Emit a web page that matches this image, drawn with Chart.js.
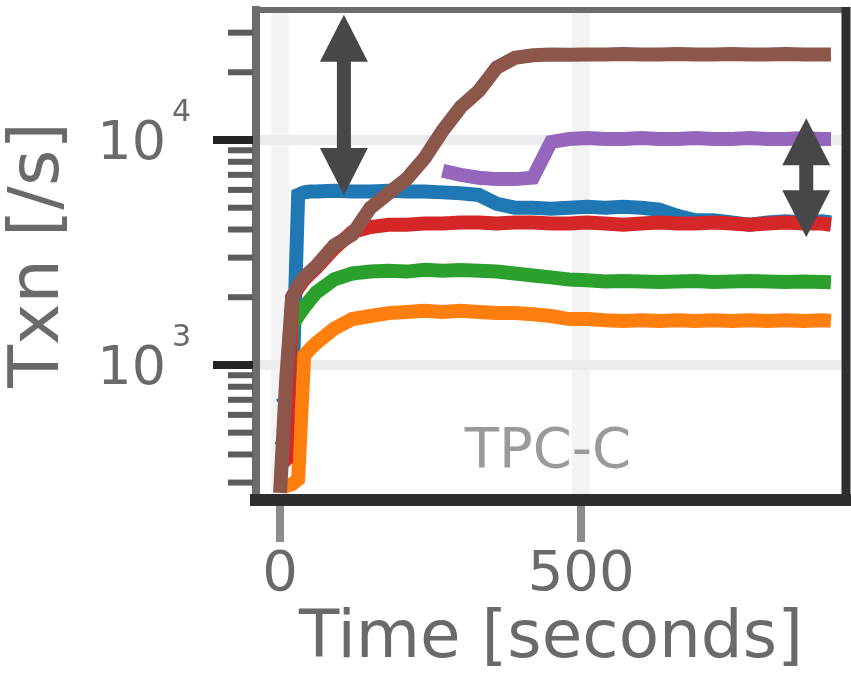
<!DOCTYPE html>
<html>
<head>
<meta charset="utf-8">
<script src="https://cdn.jsdelivr.net/npm/chart.js@4/dist/chart.umd.min.js"></script>
<style>
  html, body { margin: 0; padding: 0; background: #ffffff; }
  #wrap { width: 851px; height: 673px; }
</style>
</head>
<body>
<div id="wrap"><canvas id="chart" width="851" height="673"></canvas></div>
<script>
// Sampling times (seconds)
const timeSec = [0, 10, 20, 30, 40, 50, 60, 90, 120, 150, 180, 210, 240, 270, 300, 330, 360, 390,
                 420, 450, 480, 510, 540, 570, 600, 630, 660, 690, 720, 750, 780, 810, 840, 870, 900, 915];

// Throughput per run (transactions / second), null = not yet running
const tputBlue   = [660, 690, 720, 5700, 5850, 5900, 5900, 5950, 5900, 5900, 5950, 5900, 5900, 5850, 5800, 5700, 5200, 5000,
                    5000, 4950, 5000, 5050, 5000, 5050, 5000, 4900, 4600, 4400, 4400, 4300, 4200, 4300, 4350, 4300, 4350, 4300];
const tputOrange = [300, 290, 295, 310, 1100, 1180, 1250, 1450, 1600, 1650, 1700, 1720, 1740, 1720, 1740, 1720, 1700, 1700,
                    1680, 1650, 1600, 1600, 1580, 1570, 1580, 1570, 1580, 1570, 1580, 1570, 1580, 1570, 1580, 1570, 1580, 1570];
const tputGreen  = [430, 470, 1500, 1650, 1800, 1950, 2100, 2400, 2550, 2600, 2620, 2600, 2650, 2620, 2640, 2620, 2600, 2550,
                    2500, 2450, 2400, 2380, 2350, 2360, 2350, 2340, 2350, 2360, 2340, 2350, 2360, 2350, 2340, 2350, 2340, 2330];
const tputRed    = [360, 380, 2000, 2200, 2400, 2550, 2700, 3300, 3900, 4100, 4200, 4200, 4250, 4250, 4300, 4300, 4250, 4300,
                    4300, 4250, 4250, 4300, 4250, 4200, 4250, 4300, 4250, 4250, 4300, 4250, 4200, 4250, 4300, 4250, 4250, 4200];
const tputPurple = [null, null, null, null, null, null, null, null, null, null, null, null, null, 7300, 7000, 6800, 6700, 6700,
                    6800, 9800, 10100, 10200, 10100, 10100, 10200, 10100, 10100, 10200, 10100, 10100, 10200, 10100, 10100, 10200, 10100, 10100];
const tputBrown  = [270, 850, 2000, 2250, 2450, 2600, 2750, 3400, 3800, 5000, 5800, 6700, 8300, 11000, 14000, 16500, 21000, 23200,
                    23800, 24000, 23900, 24000, 24000, 24100, 24000, 24000, 24100, 24000, 24000, 24100, 24000, 24000, 24100, 24000, 24000, 24000];

const seriesValues = [tputBlue, tputOrange, tputGreen, tputRed, tputPurple, tputBrown];
const seriesColors = ['#1f77b4', '#ff7f0e', '#2ca02c', '#d62728', '#9467bd', '#8c564b'];

// Axis ticks
const xTickValues = [0, 500];
const yTickValues = [300, 400, 500, 600, 700, 800, 900, 1000, 2000, 3000, 4000, 5000, 6000, 7000, 8000, 9000, 10000, 20000, 30000];
const yLabelValues = [1000, 10000];
const yLabelExponents = ['3', '4'];

// Spread markers: time, lower and upper value of each double arrow
const arrowTime = [106, 874];
const arrowLow  = [5700, 3700];
const arrowHigh = [36000, 12500];

// Workload tag placed inside the plot
const tagText = 'TPC-C';
const tagTime = 445;
const tagValue = 410;

const textColor = '#6a6a6a';
const FONT = 'DejaVu Sans';
Chart.defaults.font.family = FONT;

function isPow10(v) {
  const l = Math.log10(v);
  return Math.abs(l - Math.round(l)) < 1e-9;
}

const decor = {
  id: 'decor',
  afterDraw(chart) {
    const { ctx, chartArea: a, scales: { x, y } } = chart;
    ctx.save();

    // frame: light left/top spines, heavy right/bottom spines
    ctx.strokeStyle = '#6c6c6c';
    ctx.lineWidth = 8;
    ctx.beginPath(); ctx.moveTo(a.left, a.top - 4); ctx.lineTo(a.left, a.bottom); ctx.stroke();
    ctx.lineWidth = 6;
    ctx.beginPath(); ctx.moveTo(a.left - 4, a.top); ctx.lineTo(a.right, a.top); ctx.stroke();
    ctx.strokeStyle = '#2e2e2e';
    ctx.lineWidth = 9;
    ctx.beginPath(); ctx.moveTo(a.right, a.top - 3); ctx.lineTo(a.right, a.bottom + 6); ctx.stroke();
    ctx.lineWidth = 12;
    ctx.beginPath(); ctx.moveTo(a.left - 6, a.bottom); ctx.lineTo(a.right + 5, a.bottom); ctx.stroke();

    // y tick marks (major decades longer and darker)
    y.ticks.forEach(t => {
      const py = y.getPixelForValue(t.value);
      const major = isPow10(t.value);
      ctx.strokeStyle = major ? '#242424' : '#5c5c5c';
      ctx.lineWidth = major ? 8 : 6;
      ctx.beginPath();
      ctx.moveTo(a.left - (major ? 43 : 28), py);
      ctx.lineTo(a.left - 3, py);
      ctx.stroke();
    });

    // y tick labels as powers of ten
    ctx.fillStyle = textColor;
    yLabelValues.forEach((v, i) => {
      const py = y.getPixelForValue(v);
      ctx.font = '54px "' + FONT + '"';
      ctx.textAlign = 'right';
      ctx.textBaseline = 'alphabetic';
      ctx.fillText('10', a.left - 90, py + 19);
      ctx.font = '30px "' + FONT + '"';
      ctx.textAlign = 'left';
      ctx.fillText(yLabelExponents[i], a.left - 84, py - 19);
    });

    // double arrows
    ctx.fillStyle = '#474747';
    const hw = 24, hl = 47, sw = 7;
    arrowTime.forEach((t, i) => {
      const px = x.getPixelForValue(t);
      const yb = y.getPixelForValue(arrowLow[i]);
      const yt = y.getPixelForValue(arrowHigh[i]);
      ctx.beginPath();
      ctx.moveTo(px, yt); ctx.lineTo(px + hw, yt + hl); ctx.lineTo(px - hw, yt + hl); ctx.closePath();
      ctx.fill();
      ctx.beginPath();
      ctx.moveTo(px, yb); ctx.lineTo(px + hw, yb - hl); ctx.lineTo(px - hw, yb - hl); ctx.closePath();
      ctx.fill();
      ctx.fillRect(px - sw, yt + hl - 1, 2 * sw, (yb - hl) - (yt + hl) + 2);
    });

    // workload tag
    ctx.fillStyle = '#9a9a9a';
    ctx.font = '56px "' + FONT + '"';
    ctx.textAlign = 'center';
    ctx.textBaseline = 'middle';
    ctx.fillText(tagText, x.getPixelForValue(tagTime), y.getPixelForValue(tagValue));

    ctx.restore();
  }
};

new Chart(document.getElementById('chart'), {
  type: 'line',
  data: {
    labels: timeSec,
    datasets: seriesValues.map((vals, i) => ({
      data: vals.map((v, k) => ({ x: timeSec[k], y: v })),
      borderColor: seriesColors[i],
      backgroundColor: seriesColors[i],
      borderWidth: 14,
      pointRadius: 0,
      tension: 0,
      spanGaps: false,
      fill: false,
      order: seriesValues.length - i
    }))
  },
  options: {
    responsive: false,
    animation: false,
    devicePixelRatio: 1,
    layout: { padding: { top: 10, right: 5, left: 0, bottom: 0 } },
    plugins: { legend: { display: false }, tooltip: { enabled: false } },
    scales: {
      x: {
        type: 'linear',
        min: -40,
        max: 940,
        afterBuildTicks: s => { s.ticks = xTickValues.map(v => ({ value: v })); },
        afterFit: s => { s.height = 173; },
        border: { display: false },
        grid: {
          color: '#f3f3f3',
          lineWidth: 18,
          drawTicks: true,
          tickLength: 42,
          tickWidth: 8,
          tickColor: '#8c8c8c'
        },
        ticks: {
          autoSkip: false,
          maxRotation: 0,
          padding: 0,
          color: textColor,
          font: { size: 56 },
          callback: v => String(v)
        },
        title: {
          display: true,
          text: 'Time [seconds]',
          color: textColor,
          font: { size: 66, lineHeight: 1.0 },
          padding: { top: 0, bottom: 0 }
        }
      },
      y: {
        type: 'logarithmic',
        min: 251,
        max: 37830,
        afterBuildTicks: s => { s.ticks = yTickValues.map(v => ({ value: v })); },
        afterFit: s => { s.width = 256; },
        border: { display: false },
        grid: {
          color: c => (c.tick && isPow10(c.tick.value)) ? '#ececec' : 'rgba(0,0,0,0)',
          lineWidth: 10,
          drawTicks: false
        },
        ticks: { display: false, autoSkip: false },
        title: {
          display: true,
          text: 'Txn [/s]',
          color: textColor,
          font: { size: 70, lineHeight: 1.0 },
          padding: { top: 5, bottom: 0 }
        }
      }
    }
  },
  plugins: [decor]
});
</script>
</body>
</html>
